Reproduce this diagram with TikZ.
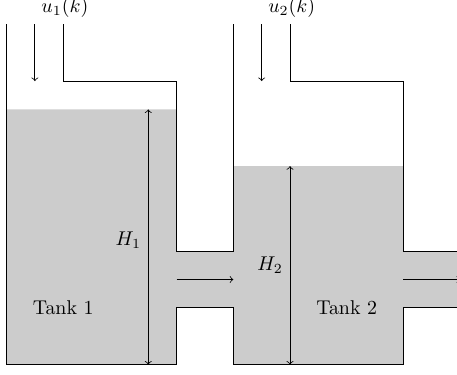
\documentclass[tikz,border=0pt]{standalone}
\begin{document}
\begin{tikzpicture}
      \useasboundingbox (-0.115, -0.168) rectangle (7.945, 6.43);

      \fill [gray!40] (0, 0) -- (3, 0) -- (3, 1) -- (4, 1) -- (4, 0) -- (7, 0) -- (7, 1) -- (8, 1) -- (8, 2) -- (7, 2) -- (7, 3.5) -- (4, 3.5) -- (4, 2) -- (3, 2) -- (3, 4.5) -- (0, 4.5) -- cycle;

      \draw (0, 6) -- (0, 0) -- (3, 0) -- (3, 1) -- (4, 1) -- (4, 0) -- (7, 0) -- (7, 1) -- (8, 1);
      \draw (1, 6) -- (1, 5) -- (3, 5) -- (3, 2) -- (4, 2) -- (4, 6);
      \draw (5, 6) -- (5, 5) -- (7, 5) -- (7, 2) -- (8, 2);

      \draw [->] (0.5, 6) -- (0.5, 5);
      \draw [->] (4.5, 6) -- (4.5, 5);
      \draw [<->] (2.5, 0) -- (2.5, 4.5);
      \draw [<->] (5, 0) -- (5, 3.5);
      \draw [->] (3, 1.5) -- (4, 1.5);
      \draw [->] (7, 1.5) -- (8, 1.5);

      \node (uone) at (1.03, 6.29) {$u_1(k)$};
      \node (utwo) at (5.03, 6.29) {$u_2(k)$};
      \node (hone) at (2.15, 2.2) {$H_1$};
      \node (htwo) at (4.65, 1.75) {$H_2$};
      \node (tankone) at (1, 1) {Tank 1};
      \node (tanktwo) at (6, 1) {Tank 2};
    \end{tikzpicture}
\end{document}
